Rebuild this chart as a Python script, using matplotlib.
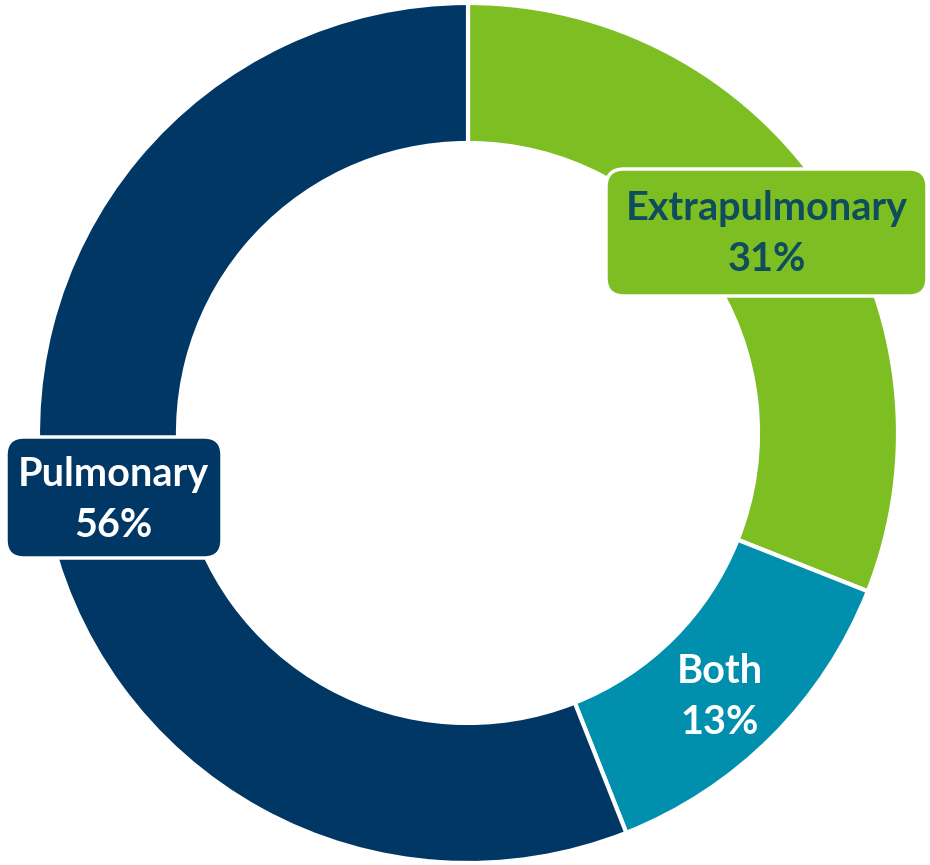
import matplotlib.pyplot as plt
from matplotlib.patches import FancyBboxPatch

labels = ['Extrapulmonary', 'Both', 'Pulmonary']
values = [31, 13, 56]
colors = ['#7DBE22', '#008FAD', '#003764']

fig = plt.figure(figsize=(9.3, 8.65), dpi=100)
ax = fig.add_axes([0, 0, 1, 1])
ax.set_xlim(0, 930)
ax.set_ylim(0, 865)
ax.set_aspect('equal')
ax.axis('off')

ax.pie(values, colors=colors, startangle=90, counterclock=False,
       center=(468, 432), radius=430,
       wedgeprops=dict(width=140, edgecolor='white', linewidth=3))
ax.set_xlim(0, 930)
ax.set_ylim(0, 865)

# label boxes (x0, y0, w, h) in pixels from bottom
boxes = {
    'Extrapulmonary': (606, 569, 321, 127),
    'Pulmonary': (6, 307, 216, 121),
}
text_pos = {
    'Extrapulmonary': (767, 631),
    'Both': (720, 168),
    'Pulmonary': (113, 365),
}
text_col = {'Extrapulmonary': '#0F4C5C', 'Both': 'white', 'Pulmonary': 'white'}

for lab, val, col in zip(labels, values, colors):
    if lab in boxes:
        x0, y0, w, h = boxes[lab]
        p = FancyBboxPatch((x0 + 18, y0 + 18), w - 36, h - 36,
                           boxstyle='round,pad=18,rounding_size=18',
                           facecolor=col, edgecolor='white', linewidth=2.5,
                           zorder=5)
        ax.add_patch(p)
    x, y = text_pos[lab]
    ax.text(x, y, f'{lab}\n{val}%', ha='center', va='center',
            fontsize=28.5, fontweight='bold', family='Lato',
            color=text_col[lab], linespacing=1.45, zorder=6)

fig.savefig('out.png', dpi=100)
